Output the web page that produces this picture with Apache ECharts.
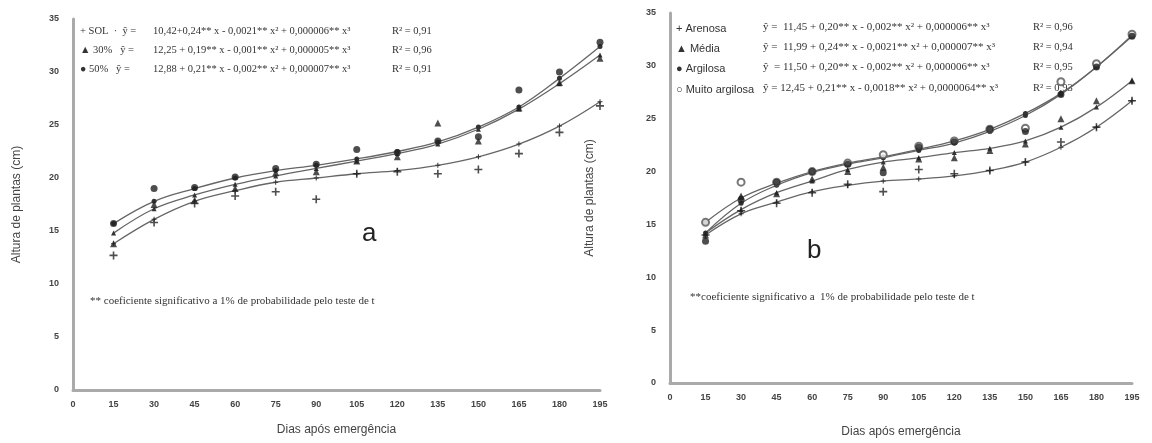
<!DOCTYPE html>
<html>
<head>
<meta charset="utf-8">
<script src="https://cdn.jsdelivr.net/npm/echarts@6/dist/echarts.min.js"></script>
<style>
  html, body { margin: 0; padding: 0; background: #fff; }
  #main { width: 1152px; height: 443px; }
</style>
</head>
<body>
<div id="main"></div>
<script>
var days = [15, 30, 45, 60, 75, 90, 105, 120, 135, 150, 165, 180, 195];

// panel a: observed points
var solPts = [12.7, 15.8, 17.6, 18.3, 18.7, 18.0, 20.4, 20.6, 20.4, 20.8, 22.3, 24.3, 26.8];
var p30Pts = [13.8, 17.5, 17.9, 19.0, 20.5, 20.6, 21.6, 22.0, 25.2, 23.5, 26.6, 29.0, 31.3];
var p50Pts = [15.7, 19.0, 19.1, 20.1, 20.9, 21.3, 22.7, 22.4, 23.5, 23.9, 28.3, 30.0, 32.8];
// panel a: fitted curves
var solFit = [13.8, 16.1, 17.8, 18.8, 19.6, 20.0, 20.4, 20.7, 21.2, 22.0, 23.2, 24.9, 27.2];
var p30Fit = [14.8, 17.1, 18.4, 19.4, 20.2, 20.9, 21.6, 22.3, 23.2, 24.6, 26.5, 28.9, 31.6];
var p50Fit = [15.7, 17.8, 19.0, 20.0, 20.7, 21.2, 21.8, 22.5, 23.4, 24.8, 26.7, 29.4, 32.4];

// panel b: observed points
var arenosaPts = [14.0, 16.3, 17.0, 18.0, 18.8, 18.1, 20.2, 19.8, 20.1, 20.9, 22.8, 24.2, 26.7];
var mediaPts = [14.0, 17.7, 17.9, 19.3, 20.0, 20.4, 21.2, 21.3, 22.0, 22.6, 25.0, 26.7, 28.6];
var argilosaPts = [13.4, 17.3, 19.0, 20.0, 20.7, 19.9, 22.3, 22.8, 24.0, 23.8, 27.3, 29.9, 32.8];
var muitoPts = [15.2, 19.0, 19.0, 20.0, 20.8, 21.6, 22.4, 22.9, 24.0, 24.1, 28.5, 30.2, 33.0];
// panel b: fitted curves
var arenosaFit = [14.0, 16.0, 17.1, 18.1, 18.7, 19.1, 19.3, 19.6, 20.1, 20.9, 22.3, 24.2, 26.7];
var mediaFit = [14.2, 16.4, 18.0, 19.1, 20.2, 20.9, 21.3, 21.8, 22.2, 22.9, 24.2, 26.1, 28.6];
var argilosaFit = [14.2, 17.0, 18.7, 19.9, 20.7, 21.3, 22.0, 22.7, 23.8, 25.3, 27.3, 29.9, 32.8];
var muitoFit = [15.2, 17.5, 18.9, 20.0, 20.8, 21.4, 22.1, 22.9, 24.0, 25.5, 27.4, 29.9, 32.9];

var PLUS = 'path://M4,0H6V4H10V6H6V10H4V6H0V4H4Z';

function pairs(ys) {
  return days.map(function (d, i) { return [d, ys[i]]; });
}

function fitSeries(ys, idx, symbol) {
  return {
    type: 'line', xAxisIndex: idx, yAxisIndex: idx,
    data: pairs(ys), smooth: 0.4,
    symbol: symbol, symbolSize: 5, showSymbol: true,
    lineStyle: { color: '#666', width: 1.3 },
    itemStyle: { color: '#333' },
    z: 2, silent: true, animation: false
  };
}

function ptSeries(ys, idx, symbol, size) {
  var open = symbol === 'emptyCircle';
  return {
    type: 'scatter', xAxisIndex: idx, yAxisIndex: idx,
    data: pairs(ys), symbol: symbol, symbolSize: size,
    itemStyle: { color: open ? '#555' : '#222', borderWidth: open ? 1 : 0 },
    z: open ? 2.5 : 3, silent: true, animation: false
  };
}

function xAxis(idx, gap) {
  return {
    type: 'value', gridIndex: idx, min: 0, max: 195, interval: 15,
    name: 'Dias após emergência', nameLocation: 'middle', nameGap: gap,
    nameTextStyle: { fontFamily: 'Liberation Sans', fontSize: 12, color: '#444' },
    axisLine: { lineStyle: { color: '#aaa', width: 3 } },
    axisTick: { show: false }, splitLine: { show: false },
    axisLabel: { fontFamily: 'Liberation Sans', fontSize: 9, fontWeight: 'bold', color: '#444', margin: 10 }
  };
}

function yAxis(idx, gap) {
  return {
    type: 'value', gridIndex: idx, min: 0, max: 35, interval: 5,
    name: 'Altura de plantas (cm)', nameLocation: 'middle', nameGap: gap,
    nameTextStyle: { fontFamily: 'Liberation Sans', fontSize: 12, color: '#444' },
    axisLine: { show: true, lineStyle: { color: '#aaa', width: 3 } },
    axisTick: { show: false }, splitLine: { show: false },
    axisLabel: { fontFamily: 'Liberation Sans', fontSize: 9, fontWeight: 'bold', color: '#444', margin: 14 }
  };
}

var serif = 'Liberation Serif';
function txt(x, y, s, size, fam, color) {
  return {
    type: 'text', left: x, top: y,
    style: { text: s, fontSize: size || 10, fontFamily: fam || serif, fill: color || '#333' }
  };
}

var eqA = [
  ['+ SOL  ·  ŷ =', '10,42+0,24** x - 0,0021** x² + 0,000006** x³', 'R² = 0,91'],
  ['▲ 30%   ŷ =', '12,25 + 0,19** x - 0,001** x² + 0,000005** x³', 'R² = 0,96'],
  ['● 50%   ŷ =', '12,88 + 0,21** x - 0,002** x² + 0,000007** x³', 'R² = 0,91']
];
var eqB = [
  ['+ Arenosa', 'ŷ =  11,45 + 0,20** x - 0,002** x² + 0,000006** x³', 'R² = 0,96'],
  ['▲ Média', 'ŷ =  11,99 + 0,24** x - 0,0021** x² + 0,000007** x³', 'R² = 0,94'],
  ['● Argilosa', 'ŷ  = 11,50 + 0,20** x - 0,002** x² + 0,000006** x³', 'R² = 0,95'],
  ['○ Muito argilosa', 'ŷ = 12,45 + 0,21** x - 0,0018** x² + 0,0000064** x³', 'R² = 0,93']
];

var graphics = [];
var yA = [26, 45, 64];
eqA.forEach(function (r, i) {
  graphics.push(txt(80, yA[i], r[0], 10.5));
  graphics.push(txt(153, yA[i], r[1], 10.5));
  graphics.push(txt(392, yA[i], r[2], 10.5));
});
var yB = [22, 42, 62, 83];
eqB.forEach(function (r, i) {
  graphics.push(txt(676, yB[i] + 1, r[0], 11, 'Liberation Sans', '#333'));
  graphics.push(txt(763, yB[i], r[1], 11));
  graphics.push(txt(1033, yB[i], r[2], 10.5));
});
graphics.push(txt(90, 296, '** coeficiente significativo a 1% de probabilidade pelo teste de t', 11));
graphics.push(txt(690, 292, '**coeficiente significativo a  1% de probabilidade pelo teste de t', 11));
graphics.push(txt(362, 221, 'a', 26, 'Liberation Sans', '#222'));
graphics.push(txt(807, 238, 'b', 26, 'Liberation Sans', '#222'));

var myChart = echarts.init(document.getElementById('main'), null, { renderer: 'canvas' });
var option = {
  backgroundColor: '#fff',
  animation: false,
  grid: [
    { left: 73, right: 552, top: 19, bottom: 53 },
    { left: 670, right: 20, top: 13, bottom: 59 }
  ],
  xAxis: [xAxis(0, 34), xAxis(1, 43)],
  yAxis: [yAxis(0, 50), yAxis(1, 74)],
  series: [
    fitSeries(solFit, 0, PLUS),
    fitSeries(p30Fit, 0, 'triangle'),
    fitSeries(p50Fit, 0, 'circle'),
    ptSeries(solPts, 0, PLUS, 8),
    ptSeries(p30Pts, 0, 'triangle', 7),
    ptSeries(p50Pts, 0, 'circle', 7),
    fitSeries(arenosaFit, 1, PLUS),
    fitSeries(mediaFit, 1, 'triangle'),
    fitSeries(argilosaFit, 1, 'circle'),
    fitSeries(muitoFit, 1, 'circle'),
    ptSeries(arenosaPts, 1, PLUS, 8),
    ptSeries(mediaPts, 1, 'triangle', 7),
    ptSeries(argilosaPts, 1, 'circle', 7),
    ptSeries(muitoPts, 1, 'emptyCircle', 7)
  ],
  graphic: graphics
};
myChart.setOption(option);
</script>
</body>
</html>
